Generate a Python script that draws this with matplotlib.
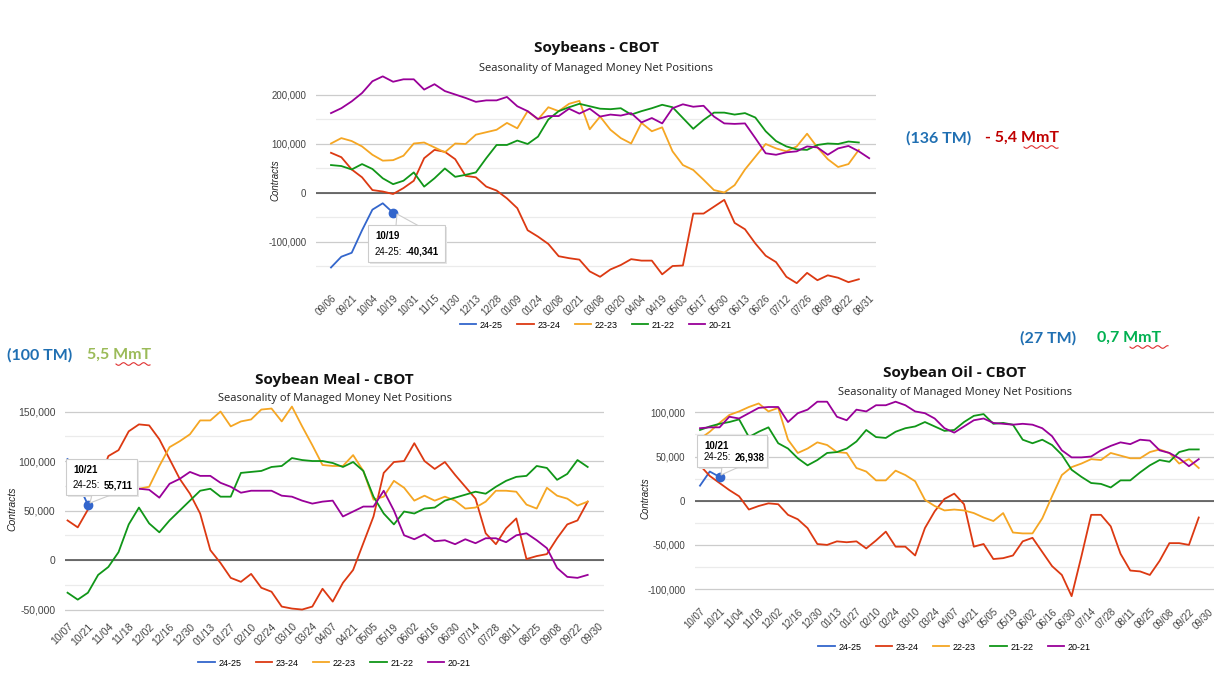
import numpy as np
import matplotlib
matplotlib.use("Agg")
import matplotlib.pyplot as plt
from matplotlib.patches import Rectangle, Polygon
from matplotlib.lines import Line2D

# ---------------- data (thousand contracts, weekly) ----------------
seasons = ["24-25", "23-24", "22-23", "21-22", "20-21"]
colors = ["#3366cc", "#dc3912", "#f5a623", "#109618", "#990099"]

sb_ticks = ["09/06", "09/21", "10/04", "10/19", "10/31", "11/15", "11/30", "12/13", "12/28",
            "01/09", "01/24", "02/08", "02/21", "03/08", "03/20", "04/04", "04/19", "05/03",
            "05/17", "05/30", "06/13", "06/26", "07/12", "07/26", "08/09", "08/22", "08/31"]
sb_2425 = [-152, -130, -122, -76, -34, -21, -40.341]
sb_2324 = [82, 73, 48, 32, 6, 3, -2, 10, 25, 71, 88, 84, 69, 35, 32, 13, 5, -11, -31, -76,
           -89, -104, -129, -133, -136, -160, -171, -156, -147, -135, -138, -138, -166, -149,
           -148, -42, -42, -28, -14, -61, -74, -103, -128, -141, -171, -184, -163, -178, -168,
           -173, -182, -176]
sb_2223 = [101, 112, 106, 95, 78, 66, 67, 76, 101, 103, 93, 83, 101, 100, 119, 124, 129, 143,
           132, 167, 150, 175, 167, 182, 188, 130, 156, 129, 112, 101, 143, 126, 134, 85, 57,
           47, 27, 6, 1, 16, 48, 74, 100, 91, 85, 95, 121, 93, 69, 53, 59, 88]
sb_2122 = [57, 55, 48, 59, 49, 30, 18, 25, 42, 13, 30, 50, 33, 37, 42, 71, 98, 98, 107, 100,
           115, 150, 167, 175, 182, 177, 172, 171, 173, 160, 167, 173, 180, 175, 153, 131, 149,
           164, 164, 160, 163, 154, 126, 106, 95, 89, 88, 98, 101, 100, 105, 103]
sb_2021 = [163, 173, 187, 204, 228, 238, 227, 232, 232, 211, 222, 208, 201, 194, 186, 189, 189,
           196, 177, 167, 151, 157, 157, 172, 162, 172, 156, 160, 158, 163, 144, 153, 142, 173,
           181, 176, 178, 156, 142, 141, 142, 112, 81, 78, 83, 85, 95, 93, 78, 91, 96, 85, 71]

crush_ticks = ["10/07", "10/21", "11/04", "11/18", "12/02", "12/16", "12/30", "01/13", "01/27",
               "02/10", "02/24", "03/10", "03/24", "04/07", "04/21", "05/05", "05/19", "06/02",
               "06/16", "06/30", "07/14", "07/28", "08/11", "08/25", "09/08", "09/22", "09/30"]

sm_2425 = [102, 78, 55.711]
sm_2324 = [40, 33, 51, 77, 105, 111, 130, 137, 136, 122, 102, 82, 67, 47, 10, -3, -18, -22, -14,
           -28, -32, -47, -49, -50, -47, -29, -42, -23, -10, 17, 44, 88, 99, 100, 118, 100, 92,
           99, 86, 74, 62, 27, 16, 32, 42, 1, 4, 6, 22, 36, 40, 59]
sm_2223 = [85, 82, 79, 76, 74, 72, 71, 72, 74, 95, 114, 120, 127, 141, 141, 150, 135, 140, 142,
           152, 153, 140, 155, 135, 116, 96, 95, 95, 106, 90, 61, 64, 80, 73, 60, 65, 60, 64, 60,
           52, 53, 59, 70, 70, 69, 56, 52, 73, 65, 62, 55, 59]
sm_2122 = [-33, -40, -33, -15, -7, 8, 36, 53, 37, 28, 40, 50, 60, 70, 72, 64, 64, 88, 89, 90, 94,
           95, 103, 101, 100, 100, 98, 94, 99, 90, 64, 47, 36, 49, 47, 52, 53, 60, 63, 66, 69,
           67, 74, 80, 84, 85, 95, 93, 81, 87, 101, 94]
sm_2021 = [75, 74, 73, 72, 72, 72, 72, 72, 71, 63, 77, 82, 89, 85, 85, 78, 74, 68, 70, 70, 70,
           65, 64, 60, 57, 59, 60, 44, 49, 54, 54, 70, 50, 25, 21, 26, 19, 20, 16, 21, 17, 22,
           22, 18, 25, 27, 20, 12, -8, -17, -18, -15]

so_2425 = [17, 33, 26.938]
so_2324 = [40, 28, 20, 12, 5, -10, -6, -3, -4, -16, -21, -31, -49, -50, -46, -47, -46, -54, -45,
           -35, -52, -52, -62, -31, -12, 2, 8, -4, -52, -49, -66, -65, -62, -46, -42, -58, -74,
           -84, -108, -63, -16, -16, -29, -60, -79, -80, -84, -68, -48, -48, -50, -19]
so_2223 = [70, 78, 88, 97, 101, 106, 110, 101, 105, 69, 54, 59, 66, 63, 55, 54, 37, 33, 23, 23,
           34, 29, 22, 1, -6, -11, -10, -11, -14, -19, -23, -14, -36, -37, -37, -20, 5, 29, 38,
           42, 47, 46, 54, 51, 48, 48, 55, 58, 54, 42, 47, 37]
so_2122 = [80, 84, 87, 89, 92, 72, 78, 83, 65, 59, 48, 40, 46, 54, 55, 59, 67, 80, 72, 71, 78,
           82, 84, 89, 84, 79, 80, 89, 96, 98, 87, 88, 86, 69, 65, 69, 63, 52, 35, 27, 20, 19,
           15, 23, 23, 32, 40, 46, 44, 55, 58, 58]
so_2021 = [82, 83, 83, 95, 93, 99, 105, 106, 106, 89, 99, 103, 112, 112, 95, 91, 103, 101, 108,
           108, 112, 108, 101, 99, 93, 82, 77, 84, 91, 93, 88, 87, 86, 87, 86, 82, 73, 57, 49, 49,
           50, 57, 62, 66, 64, 69, 68, 57, 54, 48, 39, 47]

# ---------------- figure ----------------
W, H = 1214, 673
fig = plt.figure(figsize=(W / 100, H / 100), dpi=100)
fig.patch.set_facecolor("white")
renderer = fig.canvas.get_renderer()
TICKFONT = "Liberation Sans"
TITLEFONT = "Open Sans"


def fx(x):
    return x / W


def fy(y):
    return 1 - y / H


def rect(l, t, r, b):
    return [l / W, 1 - b / H, (r - l) / W, (b - t) / H]


def chart(rect_px, xlim, ylim, major, minor, ticks, series, title, title_y, sub_y,
          leg_y, ylab_x, fs):
    ax = fig.add_axes(rect(*rect_px))
    cx = (rect_px[0] + rect_px[2]) / 2
    for vals, c in zip(series, colors):
        x = np.arange(len(vals))
        ax.plot(x, np.array(vals) * 1000, color=c, lw=1.3, zorder=3)
    ax.set_xlim(*xlim)
    ax.set_ylim(*ylim)
    ax.set_yticks(major)
    ax.set_yticklabels([f"{v:,}" for v in major], fontsize=fs, color="#444444",
                       family=TICKFONT)
    ax.set_yticks(minor, minor=True)
    ax.grid(axis="y", which="major", color="#cccccc", lw=0.9)
    ax.grid(axis="y", which="minor", color="#ebebeb", lw=0.9)
    ax.axhline(0, color="#555555", lw=1.2, zorder=2)
    ax.set_xticks(np.arange(0, 2 * len(ticks), 2))
    ax.set_xticklabels(ticks, rotation=45, ha="right", rotation_mode="anchor",
                       fontsize=fs, color="#444444", family=TICKFONT)
    ax.tick_params(which="both", length=0, pad=5)
    ax.tick_params(axis="y", pad=7)
    for s in ax.spines.values():
        s.set_visible(False)
    ax.set_axisbelow(True)
    fig.text(fx(ylab_x), fy((rect_px[1] + rect_px[3]) / 2), "Contracts", rotation=90,
             ha="center", va="center", fontsize=fs, style="italic", color="#222222",
             family=TICKFONT)
    fig.text(fx(cx), fy(title_y), title, ha="center", va="center", fontsize=11,
             fontweight="bold", color="#111111", family=TITLEFONT)
    fig.text(fx(cx), fy(sub_y), "Seasonality of Managed Money Net Positions", ha="center",
             va="center", fontsize=8, color="#222222", family=TITLEFONT)
    handles = [Line2D([], [], color=c, lw=1.3) for c in colors]
    fig.legend(handles, seasons, loc="center", bbox_to_anchor=(fx(cx), fy(leg_y)), ncol=5,
               frameon=False, handlelength=1.8, handletextpad=0.4,
               columnspacing=1.6, prop={"family": TICKFONT, "size": 6.5})
    return ax


def tooltip(ax, i, v, date, val, box, tip):
    ax.plot(i, v * 1000, "o", color="#3366cc", ms=6, zorder=6)
    l, t, r, b = box
    fig.add_artist(Rectangle((fx(l + 2), fy(b + 2)), (r - l) / W, (b - t) / H,
                             transform=fig.transFigure, fc="#e6e6e6", ec="none", zorder=4))
    fig.add_artist(Polygon([(fx(px), fy(py)) for px, py in tip], closed=True,
                           transform=fig.transFigure, fc="white", ec="#cccccc", lw=0.8,
                           zorder=4.5))
    fig.add_artist(Rectangle((fx(l), fy(b)), (r - l) / W, (b - t) / H,
                             transform=fig.transFigure, fc="white", ec="#cccccc", lw=0.8,
                             zorder=5))
    fig.text(fx(l + 7), fy(t + 11), date, fontsize=7, fontweight="bold", va="center",
             family=TICKFONT, zorder=6)
    t1 = fig.text(fx(l + 7), fy(b - 10), "24-25:", fontsize=7, va="center",
                  family=TICKFONT, zorder=6)
    wpx = t1.get_window_extent(renderer).width
    fig.text(fx(l + 7 + wpx + 3), fy(b - 10), f"{val:,}", fontsize=7, fontweight="bold",
             va="center", family=TICKFONT, zorder=6)


# Soybeans
ax1 = chart((316, 74.4, 876, 286.1), (-1.45, 52.66), (-190000, 242000),
            [-100000, 0, 100000, 200000], [-150000, -50000, 50000, 150000], sb_ticks,
            [sb_2425, sb_2324, sb_2223, sb_2122, sb_2021], "Soybeans - CBOT", 48, 68, 325,
            275, 7)
tooltip(ax1, 6, sb_2425[6], "10/19", -40341, (368, 225, 445, 262),
        [(396, 225.5), (418, 225.5), (397, 214)])

# Soybean Meal
ax2 = chart((65, 403.6, 604, 614.5), (-0.25, 52.6), (-55000, 158000),
            [-50000, 0, 50000, 100000, 150000], [-25000, 25000, 75000, 125000], crush_ticks,
            [sm_2425, sm_2324, sm_2223, sm_2122, sm_2021], "Soybean Meal - CBOT", 380, 398, 663,
            12, 7.5)
tooltip(ax2, 2, sm_2425[2], "10/21", 55711, (66, 459, 137, 495),
        [(92, 494.5), (112, 494.5), (90, 503)])

# Soybean Oil
ax3 = chart((695, 396.4, 1214, 599.7), (-0.51, 52.56), (-112000, 118000),
            [-100000, -50000, 0, 50000, 100000], [-75000, -25000, 25000, 75000], crush_ticks,
            [so_2425, so_2324, so_2223, so_2122, so_2021], "Soybean Oil - CBOT", 373, 392, 647,
            645, 7)
tooltip(ax3, 2, so_2425[2], "10/21", 26938, (697, 435, 767, 467),
        [(722, 466.5), (740, 466.5), (721, 475)])

# ---------------- side notes ----------------
NOTEFONT = "Lato"


def note(x, y, s, c):
    fig.text(fx(x), fy(y), s, fontsize=11.5, fontweight="bold", color=c, va="center",
             family=NOTEFONT)


def squiggle(x0, x1, y):
    xs = np.linspace(x0, x1, 60)
    ys = y + 1.3 * np.sin((xs - x0) / 1.6)
    fig.add_artist(Line2D(fx(xs), fy(ys), transform=fig.transFigure, color="#e03030",
                          lw=0.8))


note(906, 138, "(136 TM)", "#1f6fb2")
note(985, 138, "- 5,4 MmT", "#c00000")
squiggle(1024, 1058, 147)

note(7, 355, "(100 TM)", "#1f6fb2")
note(87, 355, "5,5 MmT", "#9bbb59")
squiggle(116, 150, 364)

note(1020, 338, "(27 TM)", "#1f6fb2")
note(1097, 338, "0,7 MmT", "#00b050")
squiggle(1130, 1168, 347)

fig.savefig("out.png", dpi=100, facecolor="white")
